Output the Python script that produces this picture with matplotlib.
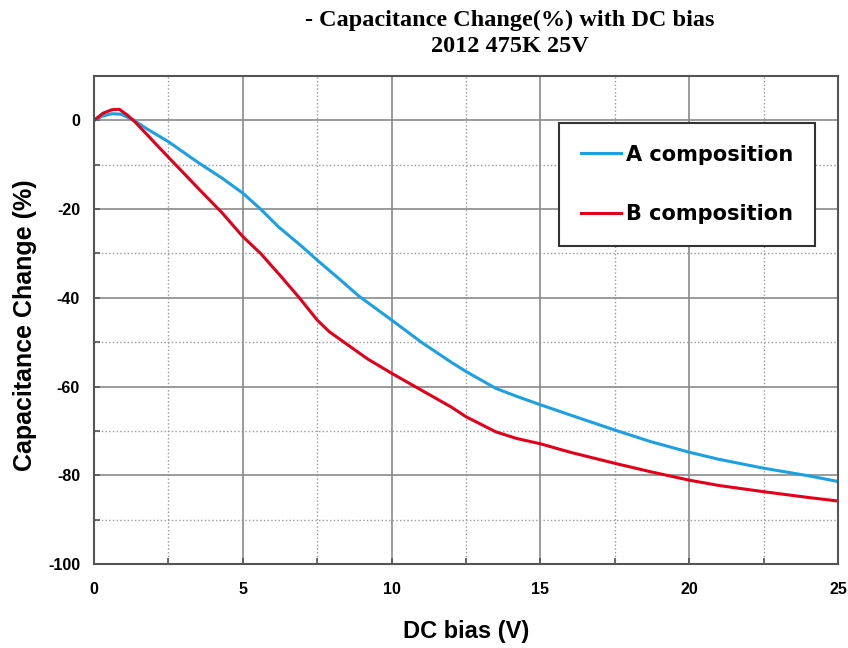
import matplotlib.pyplot as plt
import numpy as np

plt.rcParams['axes.unicode_minus'] = False

# DC bias (V) vs capacitance change (%)
x_a = [0, 0.3, 0.6, 0.9, 1.3, 1.8, 2.5, 3.5, 4.3, 5, 5.6, 6.2, 7, 7.5, 8.2, 8.9, 10, 11, 12, 12.5,
       13.5, 14.2, 15, 16, 17.5, 18.7, 20, 21, 22.5, 24, 25]
cap_a = [0, 1.0, 1.5, 1.4, 0.2, -2, -4.8, -9.5, -13.0, -16.4, -20, -24, -28.5, -31.5, -35.5, -39.6, -45, -50,
         -54.5, -56.6, -60.4, -62.2, -64.1, -66.4, -69.8, -72.4, -74.8, -76.4, -78.4, -80.1, -81.4]
x_b = [0, 0.3, 0.6, 0.85, 1.1, 1.4, 2.5, 3.5, 4.3, 5, 5.6, 6.3, 6.9, 7.5, 7.9, 8.4, 9.2, 10, 11, 12, 12.5,
       13.5, 14.2, 15, 16, 17.5, 18.7, 20, 21, 22.5, 24, 25]
cap_b = [0, 1.6, 2.4, 2.5, 1.3, -0.5, -8.3, -15.3, -20.8, -26.2, -30, -35.3, -40, -45.0, -47.6, -50, -53.8, -57,
         -60.8, -64.6, -66.8, -70.2, -71.7, -72.9, -74.8, -77.3, -79.2, -81.1, -82.3, -83.7, -85, -85.8]
xticks = [0, 5, 10, 15, 20, 25]
yticks = [0, -20, -40, -60, -80, -100]

fig = plt.figure(figsize=(8.48, 6.48), dpi=100)
ax = fig.add_axes([0.1108, 0.1296, 0.8774, 0.7531])

ax.plot(x_a, cap_a, color='#1BA1E2', lw=2.2, label='A composition')
ax.plot(x_b, cap_b, color='#E3001B', lw=2.2, label='B composition')

ax.set_xlim(0, 25)
ax.set_ylim(-100, 10)
ax.set_xticks(xticks)
ax.set_yticks(yticks)
ax.set_xticks(np.arange(2.5, 25, 5), minor=True)
ax.set_yticks(np.arange(-90, 10, 20), minor=True)
ax.grid(which='major', color='#8a8a8a', lw=1.2, ls='-')
ax.grid(which='minor', color='#999999', lw=1.0, ls=':')
ax.set_axisbelow(True)
ax.tick_params(which='both', direction='in', length=4, width=1.2, color='#555555')
ax.tick_params(axis='y', pad=10)
ax.tick_params(axis='x', pad=13)
for lab in ax.get_xticklabels() + ax.get_yticklabels():
    lab.set_fontfamily('Liberation Sans')
    lab.set_fontweight('bold')
    lab.set_fontsize(11.5)
for s in ax.spines.values():
    s.set_color('#555555')
    s.set_linewidth(1.5)

ax.set_xlabel('DC bias (V)', fontsize=17, fontweight='bold', family='Liberation Sans')
ax.set_ylabel('Capacitance Change (%)', fontsize=18, fontweight='bold', family='Liberation Sans')
ax.xaxis.set_label_coords(0.5, -0.115)
ax.yaxis.set_label_coords(-0.076, 0.49)

leg = ax.legend(loc='upper right', bbox_to_anchor=(0.969, 0.904), borderaxespad=0, fancybox=False,
                frameon=True, handlelength=1.9, handletextpad=0.25, labelspacing=1.9,
                borderpad=1.05, prop={'family': 'DejaVu Sans', 'weight': 'bold', 'size': 15})
leg.get_frame().set_edgecolor('#333333')
leg.get_frame().set_linewidth(1.5)
leg.get_frame().set_alpha(1)

fig.text(0.601, 0.985, '- Capacitance Change(%) with DC bias\n2012 475K 25V', ha='center', va='top',
         fontsize=17.5, fontweight='bold', family='Liberation Serif', linespacing=1.3)

fig.savefig('out.png', dpi=100)
